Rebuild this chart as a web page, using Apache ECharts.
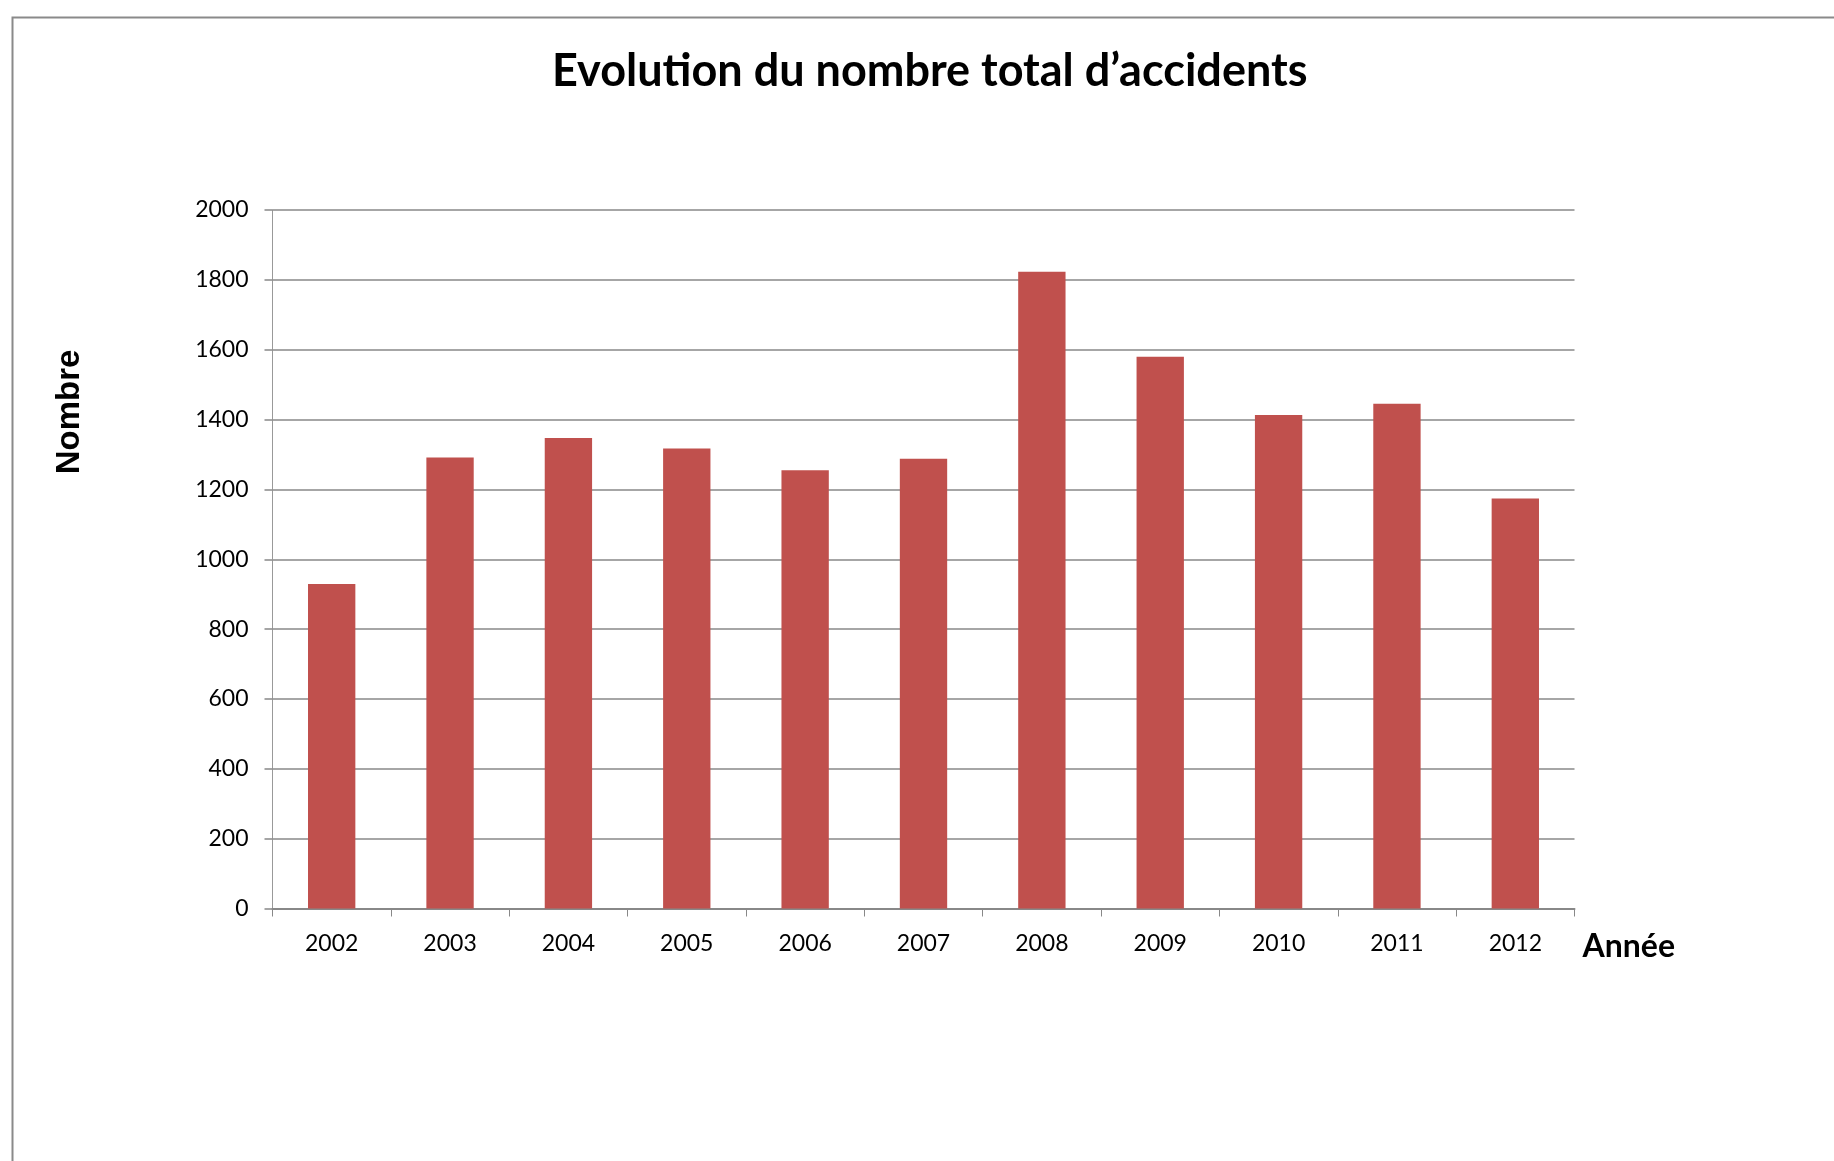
<!DOCTYPE html>
<html>
<head>
<meta charset="utf-8">
<script src="https://cdn.jsdelivr.net/npm/echarts@6/dist/echarts.min.js"></script>
<style>
html,body{margin:0;padding:0;background:#fff;}
#chart{width:1834px;height:1161px;}
</style>
</head>
<body>
<div id="chart"></div>
<script>
const titleText = "Evolution du nombre total d’accidents";
const years = ["2002","2003","2004","2005","2006","2007","2008","2009","2010","2011","2012"];
const accidents = [929, 1291, 1347, 1317, 1255, 1288, 1823, 1580, 1413, 1445, 1174];
const yAxisName = "Nombre";
const xAxisName = "Année";

const chart = echarts.init(document.getElementById('chart'), null, {renderer: 'canvas'});
chart.setOption({
  backgroundColor: '#ffffff',
  animation: false,
  title: {
    text: titleText,
    left: 547,
    top: 44,
    textStyle: {fontFamily: 'Lato', fontWeight: 'bold', fontSize: 45, color: '#000'}
  },
  graphic: [
    {type: 'rect', shape: {x: 12.5, y: 17.5, width: 1900, height: 1300},
     style: {fill: 'none', stroke: '#8a8a8a', lineWidth: 2}, silent: true},
    {type: 'text', x: 70, y: 412, rotation: Math.PI/2,
     style: {text: yAxisName, font: 'bold 33px "Liberation Sans"', fill: '#000', textAlign: 'center', textVerticalAlign: 'middle'}}
  ],
  grid: {left: 272.5, right: 259.5, top: 210, bottom: 252.5, containLabel: false},
  xAxis: {
    type: 'category',
    data: years,
    name: xAxisName,
    nameLocation: 'end',
    nameGap: 8,
    nameTextStyle: {fontFamily: 'Lato', fontWeight: 'bold', fontSize: 32, color: '#000', verticalAlign: 'top', padding: [22, 0, 0, 0]},
    axisLine: {lineStyle: {color: '#888', width: 2}},
    axisTick: {show: true, length: 8, lineStyle: {color: '#888', width: 1}},
    axisLabel: {fontFamily: 'Lato', fontSize: 23, color: '#000', margin: 24}
  },
  yAxis: {
    type: 'value',
    min: 0, max: 2000, interval: 200,
    axisLine: {show: true, lineStyle: {color: '#999', width: 1}},
    axisTick: {show: true, length: 8, lineStyle: {color: '#888', width: 1.5}},
    axisLabel: {fontFamily: 'Lato', fontSize: 23, color: '#000', margin: 24, formatter: function (v) { return String(v); }},
    splitLine: {lineStyle: {color: '#888', width: 1.5}}
  },
  series: [{
    type: 'bar',
    data: accidents,
    barWidth: '40%',
    itemStyle: {color: '#C0504D'}
  }]
});
</script>
</body>
</html>
